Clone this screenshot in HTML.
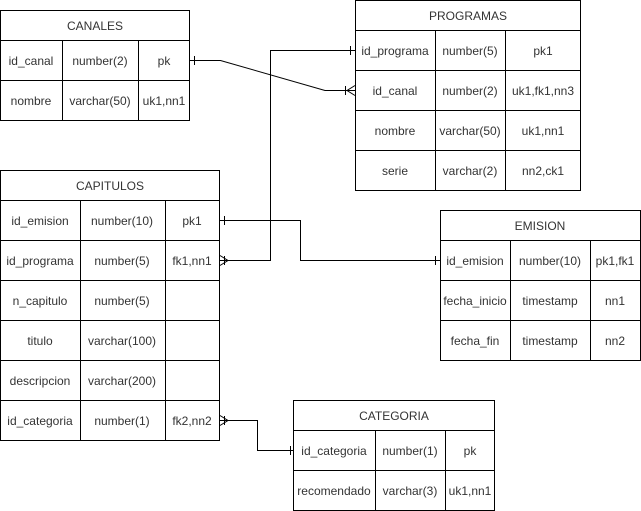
<!DOCTYPE html>
<html><head><meta charset="utf-8"><style>
body{margin:0;background:#fff}
svg{display:block}
text{font-family:"Liberation Sans",Arial,sans-serif;font-size:12px;fill:#333}
</style></head><body>
<svg width="641" height="511" viewBox="0 0 641 511">
<g fill="none" stroke="#000" stroke-width="1">
<!-- CANALES -->
<rect x="0.5" y="10.5" width="189" height="110"/>
<path d="M0.5 40.5H189.5M0.5 80.5H189.5M62.5 40.5V120.5M138.5 40.5V120.5"/>
<!-- PROGRAMAS -->
<rect x="355.5" y="0.5" width="225" height="190"/>
<path d="M355.5 30.5H580.5M355.5 70.5H580.5M355.5 110.5H580.5M355.5 150.5H580.5M435.5 30.5V190.5M505.5 30.5V190.5"/>
<!-- CAPITULOS -->
<rect x="0.5" y="170.5" width="219" height="270"/>
<path d="M0.5 200.5H219.5M0.5 240.5H219.5M0.5 280.5H219.5M0.5 320.5H219.5M0.5 360.5H219.5M0.5 400.5H219.5M80.5 200.5V440.5M165.5 200.5V440.5"/>
<!-- EMISION -->
<rect x="440.5" y="210.5" width="200" height="150"/>
<path d="M440.5 240.5H640.5M440.5 280.5H640.5M440.5 320.5H640.5M510.5 240.5V360.5M590.5 240.5V360.5"/>
<!-- CATEGORIA -->
<rect x="293.5" y="400.5" width="201" height="110"/>
<path d="M293.5 430.5H494.5M293.5 470.5H494.5M375.5 430.5V510.5M445.5 430.5V510.5"/>
<!-- connectors -->
<path d="M190 60.5H220.5L325 90.5H355"/>
<path d="M194.5 56V65"/>
<path d="M345.5 86V95M355 85.5L347 90.5L355 95.5"/>
<path d="M220 260.5H270.5V50.5H355"/>
<path d="M350.5 46V55"/>
<path d="M224.5 256V265M220 255.5L228 260.5L220 265.5"/>
<path d="M220 220.5H300.5V260.5H440"/>
<path d="M224.5 216V225M435.5 256V265"/>
<path d="M220 420.5H257.5V450.5H293"/>
<path d="M224.5 416V425M220 415.5L228 420.5L220 425.5M290.5 446V455"/>
</g>
<g text-anchor="middle">
<text x="95" y="30">CANALES</text>
<text x="31" y="65">id_canal</text><text x="100" y="65">number(2)</text><text x="164" y="65">pk</text>
<text x="31" y="105">nombre</text><text x="100" y="105">varchar(50)</text><text x="164" y="105">uk1,nn1</text>
<text x="468" y="20">PROGRAMAS</text>
<text x="395" y="55">id_programa</text><text x="470" y="55">number(5)</text><text x="543" y="55">pk1</text>
<text x="395" y="95">id_canal</text><text x="470" y="95">number(2)</text><text x="543" y="95">uk1,fk1,nn3</text>
<text x="395" y="135">nombre</text><text x="470" y="135">varchar(50)</text><text x="543" y="135">uk1,nn1</text>
<text x="395" y="175">serie</text><text x="470" y="175">varchar(2)</text><text x="543" y="175">nn2,ck1</text>
<text x="110" y="190">CAPITULOS</text>
<text x="40" y="225">id_emision</text><text x="122" y="225">number(10)</text><text x="192" y="225">pk1</text>
<text x="40" y="265">id_programa</text><text x="122" y="265">number(5)</text><text x="192" y="265">fk1,nn1</text>
<text x="40" y="305">n_capitulo</text><text x="122" y="305">number(5)</text>
<text x="40" y="345">titulo</text><text x="122" y="345">varchar(100)</text>
<text x="40" y="385">descripcion</text><text x="122" y="385">varchar(200)</text>
<text x="40" y="425">id_categoria</text><text x="122" y="425">number(1)</text><text x="192" y="425">fk2,nn2</text>
<text x="540" y="230">EMISION</text>
<text x="475" y="265">id_emision</text><text x="550" y="265">number(10)</text><text x="615" y="265">pk1,fk1</text>
<text x="475" y="305">fecha_inicio</text><text x="550" y="305">timestamp</text><text x="615" y="305">nn1</text>
<text x="475" y="345">fecha_fin</text><text x="550" y="345">timestamp</text><text x="615" y="345">nn2</text>
<text x="394" y="420">CATEGORIA</text>
<text x="334" y="455">id_categoria</text><text x="410" y="455">number(1)</text><text x="470" y="455">pk</text>
<text x="334" y="495">recomendado</text><text x="410" y="495">varchar(3)</text><text x="470" y="495">uk1,nn1</text>
</g>
</svg>
</body></html>
